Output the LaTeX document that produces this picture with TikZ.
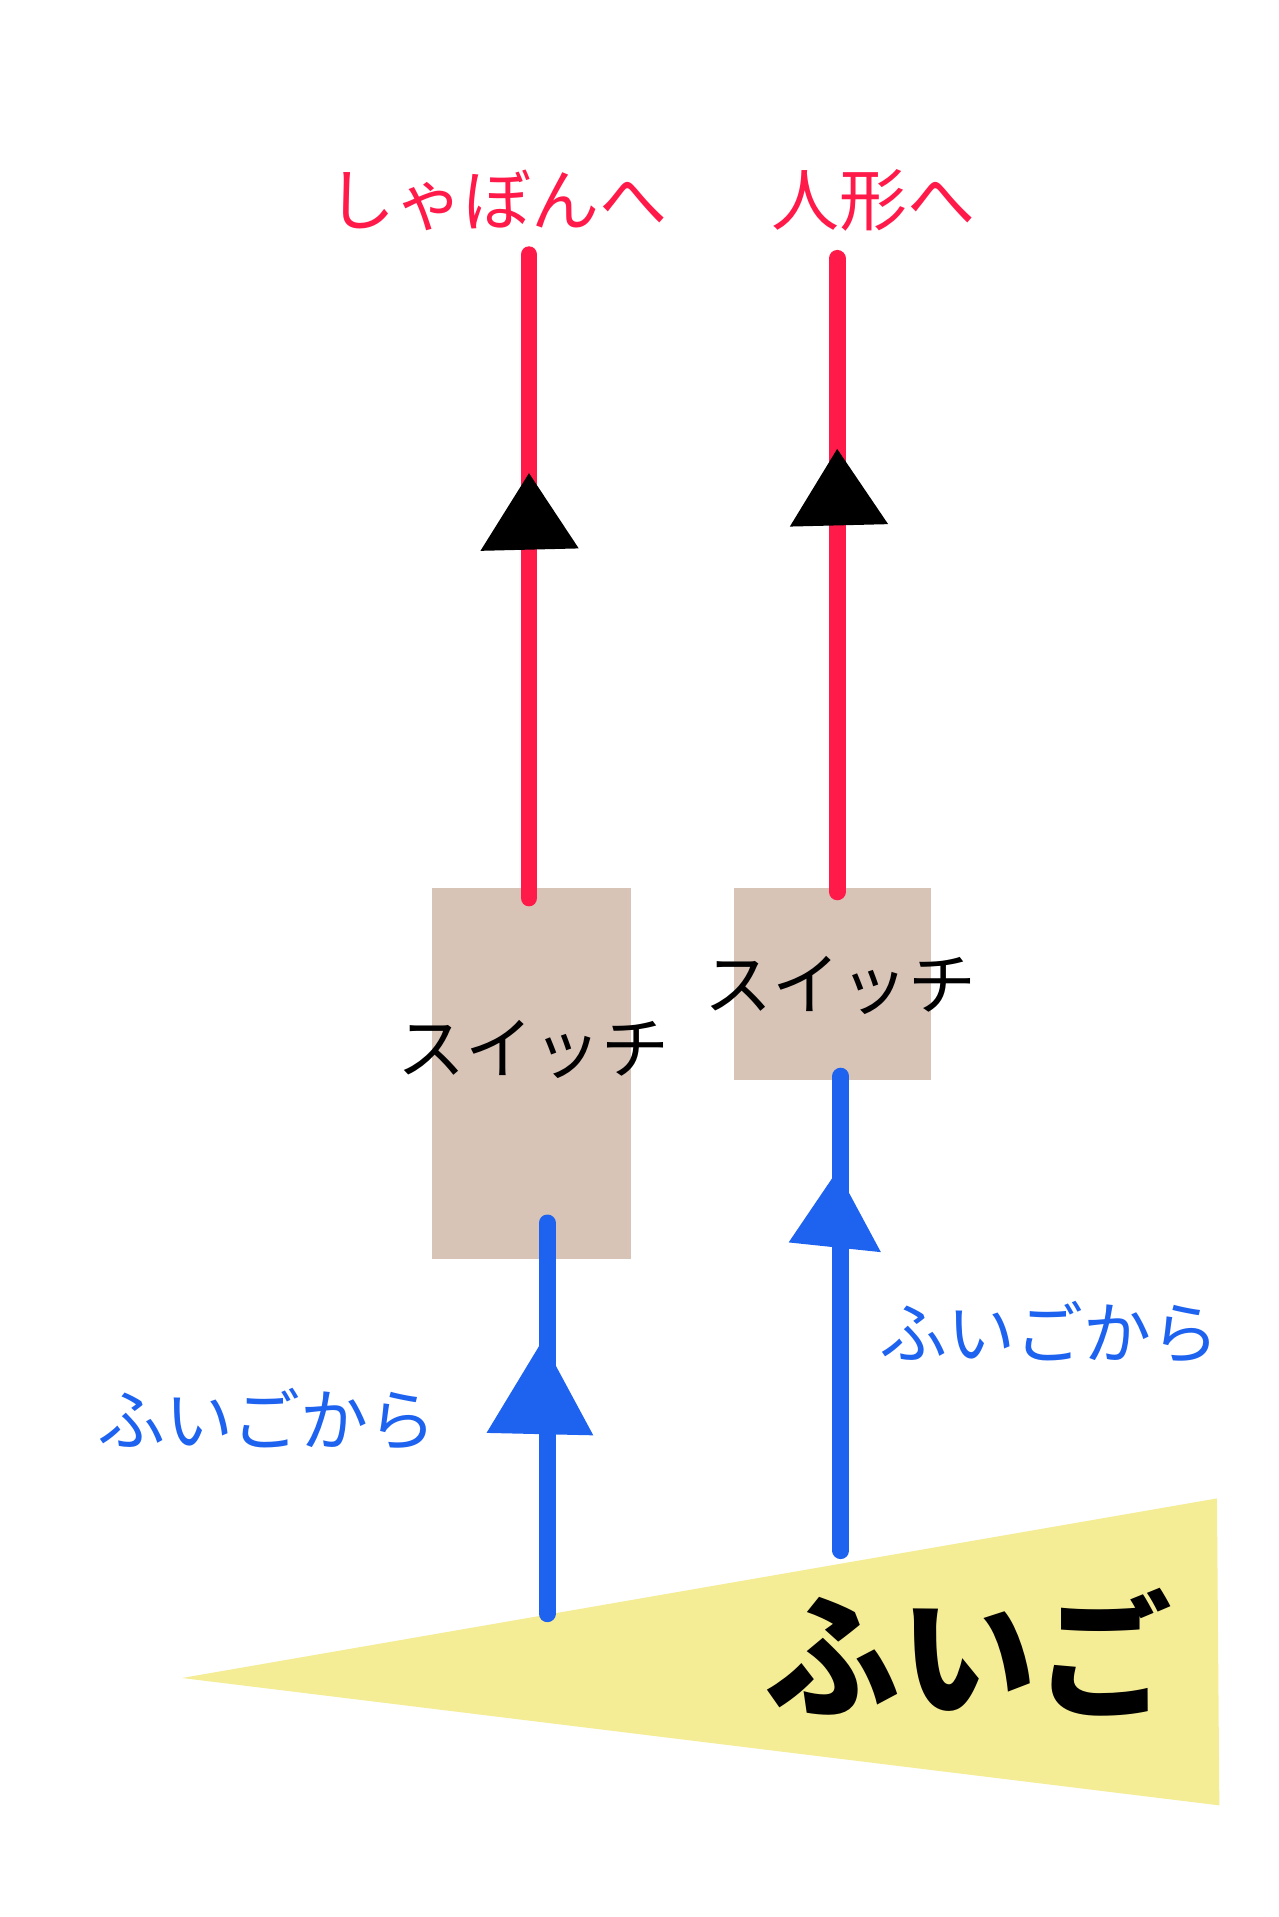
\documentclass[tikz,border=0pt]{standalone}
\usepackage{fontspec}
\newfontfamily\jp{Noto Sans CJK JP}
\begin{document}
\begin{tikzpicture}[x=0.5pt,y=-0.5pt,
  redc/.style={draw=none},
  wire/.style={line width=7pt,line cap=round},
  lbl/.style={font=\jp\fontsize{28}{30}\selectfont,inner sep=0pt},
  box/.style={fill=tanc,draw=none}]
\definecolor{redc}{HTML}{FF1A4A}
\definecolor{bluec}{HTML}{1E62F0}
\definecolor{tanc}{HTML}{D7C4B7}
\definecolor{yel}{HTML}{F5EC96}
\useasboundingbox (0,0) rectangle (1054,1580);
% bellows
\fill[yel] (150,1383) -- (1003,1235) -- (1005,1488) -- cycle;
\node[font=\jp\bfseries\fontsize{56}{60}\selectfont,inner sep=0pt] (fuigo) at (798,1362) {ふいご};
% boxes
\fill[box] (356,732) rectangle (520,1038);
\fill[box] (605,732) rectangle (767,890);
\node[lbl] (sw1) at (440,865) {スイッチ};
\node[lbl] (sw2) at (693,812) {スイッチ};
% red wires
\coordinate (r1a) at (436,740); \coordinate (r1b) at (436,210);
\coordinate (r2a) at (690,735); \coordinate (r2b) at (690,213);
\draw[wire,redc,draw=redc] (r1a) -- (r1b);
\draw[wire,draw=redc] (r2a) -- (r2b);
\fill[redc] (436,390) -- (477,452) -- (396,454) -- cycle;
\fill[redc] (690,370) -- (732,432) -- (651,434) -- cycle;
\node[lbl,text=redc] (t1) at (410,165) {しゃぼんへ};
\node[lbl,text=redc] (t2) at (720,165) {人形へ};
% blue wires
\coordinate (b1a) at (451,1330); \coordinate (b1b) at (451,1008);
\coordinate (b2a) at (693,1278); \coordinate (b2b) at (693,887);
\draw[wire,draw=bluec] (b1a) -- (b1b);
\draw[wire,draw=bluec] (b2a) -- (b2b);
\fill[bluec] (447,1105) -- (489,1183) -- (401,1181) -- cycle;
\fill[bluec] (690,965) -- (726,1032) -- (650,1024) -- cycle;
\node[lbl,text=bluec] (f1) at (220,1170) {ふいごから};
\node[lbl,text=bluec] (f2) at (865,1098) {ふいごから};
\end{tikzpicture}
\end{document}
